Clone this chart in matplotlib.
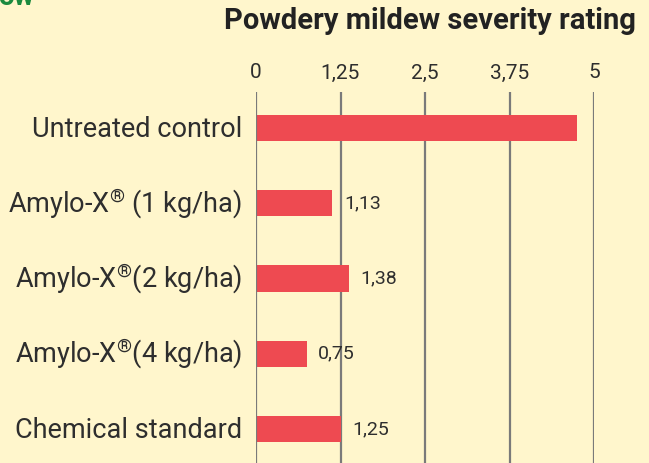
import matplotlib
matplotlib.use("Agg")
import matplotlib.pyplot as plt

plt.rcParams["mathtext.fontset"] = "custom"
plt.rcParams["mathtext.rm"] = "Roboto"
plt.rcParams["mathtext.default"] = "regular"

categories = ["Untreated control", "Amylo-X$^{\u00ae}$ (1 kg/ha)", "Amylo-X$^{\u00ae}$(2 kg/ha)",
              "Amylo-X$^{\u00ae}$(4 kg/ha)", "Chemical standard"]
values = [4.75, 1.13, 1.38, 0.75, 1.25]
value_labels = ["", "1,13", "1,38", "0,75", "1,25"]
ticks = [0, 1.25, 2.5, 3.75, 5]
tick_labels = ["0", "1,25", "2,5", "3,75", "5"]
title = "Powdery mildew severity rating"

W, H = 649, 463
BG = "#FFF6CC"
BAR = "#EE4A51"
GRID = "#7A7A7A"
TXT = "#2E2E2E"

fig = plt.figure(figsize=(W / 100, H / 100), dpi=100, facecolor=BG)
left, right = 256 / W, 594 / W
top = 92 / H
ax = fig.add_axes([left, 0, right - left, 1 - top])
ax.set_facecolor(BG)

pos = list(range(len(categories)))
ax.barh(pos, values, height=0.35, color=BAR, zorder=2)
for t in ticks:
    ax.axvline(t, color=GRID, lw=1.6, zorder=3 if t == 0 else 1)

ax.set_xlim(0, 5)
ax.set_ylim(4 + (463 - 429) / 75, -(128 - 92) / 75)
for s in ax.spines.values():
    s.set_visible(False)
ax.set_xticks([])
ax.set_yticks([])

for p, c in zip(pos, categories):
    ax.text(-0.2, p + 0.125, c, ha="right", va="baseline", fontsize=19.5, color=TXT,
            family="Roboto", fontweight="normal")
for p, v, lab in zip(pos, values, value_labels):
    if lab:
        ax.text(v + 0.17, p, lab, ha="left", va="center", fontsize=14, color=TXT,
                family="Roboto", fontweight="normal")
for t, lab in zip(ticks, tick_labels):
    x = left + (right - left) * t / 5
    fig.text(x, 1 - 73 / H, lab, ha="center", va="center", fontsize=15, color=TXT,
             family="Roboto", fontweight="normal")

fig.text(636 / W, 1 - 21 / H, title, ha="right", va="center", fontsize=21,
         fontweight="bold", color="#222222", family="Roboto")
fig.text(-2 / W, 1 - 5 / H, "ow", ha="left", va="baseline", fontsize=20,
         fontweight="bold", color="#1B8A3E", family="Roboto")

fig.savefig("out.png", dpi=100, facecolor=BG)
